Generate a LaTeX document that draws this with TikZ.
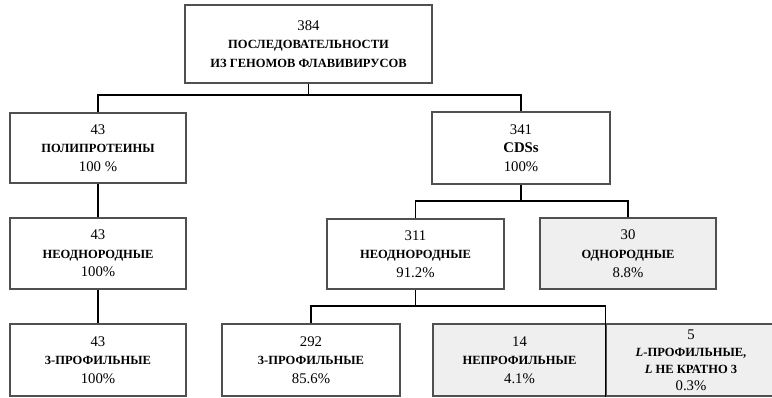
\documentclass[tikz,border=0pt]{standalone}
\usepackage{fontspec}
\setmainfont{Liberation Serif}
\usepackage{tikz}
\usetikzlibrary{positioning}
\usepackage{xcolor}
\definecolor{boxgray}{RGB}{239,239,239}
\definecolor{edgegray}{RGB}{80,80,80}
\newcommand{\numfont}{\fontsize{10.5}{13.3}\selectfont}
\newcommand{\labfont}{\fontsize{8.9}{13.3}\selectfont\bfseries}
\newcommand{\seqbox}[3]{#1\\{\labfont #2}\\#3}
\tikzstyle{seq} = [rectangle, draw=edgegray, line width=0.9pt, fill=white, inner sep=0pt, minimum width=4.4cm, minimum height=1.775cm, align=center, font=\numfont]
\tikzstyle{seqgray} = [seq, fill=boxgray]
\tikzstyle{link} = [line width=1.2pt, color=black]

\begin{document}
\begin{tikzpicture}[x=0.025cm, y=-0.025cm]
    \useasboundingbox (0,0) rectangle (772,398);

    % Top
    \node[seq, minimum width=6.175cm, minimum height=1.95cm] (all) at (308.5,44) {384\\{\labfont ПОСЛЕДОВАТЕЛЬНОСТИ}\\{\labfont ИЗ ГЕНОМОВ ФЛАВИВИРУСОВ}};

    % Left branch
    \node[seq, minimum height=1.75cm] (poly) at (98,148) {\seqbox{43}{ПОЛИПРОТЕИНЫ}{100 \%}};
    \node[seq] (polyhet) at (98,253.5) {\seqbox{43}{НЕОДНОРОДНЫЕ}{100\%}};
    \node[seq, minimum height=1.8cm] (polythree) at (98,360) {\seqbox{43}{3-ПРОФИЛЬНЫЕ}{100\%}};

    % Right branch
    \node[seq, minimum width=4.45cm, minimum height=1.8cm] (cds) at (521,148) {341\\{\bfseries CDSs}\\100\%};
    \node[seq, minimum width=4.425cm, minimum height=1.75cm] (cdshet) at (415.5,254) {\seqbox{311}{НЕОДНОРОДНЫЕ}{91.2\%}};
    \node[seqgray] (cdshom) at (628,253.5) {\seqbox{30}{ОДНОРОДНЫЕ}{8.8\%}};
    \node[seq, minimum width=4.45cm, minimum height=1.8cm] (cdsthree) at (311,360) {\seqbox{292}{3-ПРОФИЛЬНЫЕ}{85.6\%}};
    \node[seqgray, minimum width=4.325cm, minimum height=1.8cm] (cdsnon) at (519.5,360) {\seqbox{14}{НЕПРОФИЛЬНЫЕ}{4.1\%}};
    \node[seqgray, minimum width=4.25cm, minimum height=1.8cm, font=\fontsize{10.5}{12}\selectfont] (cdsl) at (691,360) {5\\{\labfont\itshape L}{\labfont -ПРОФИЛЬНЫЕ,}\\{\labfont\itshape L}{\labfont\ НЕ КРАТНО 3}\\0.3\%};

    % Bus points
    \coordinate (bustop) at (310,95);
    \coordinate (busmid) at (522,201);
    \coordinate (buslow) at (416,306);

    % Links
    \draw[link] (all.south) -- (all.south |- bustop);
    \draw[link] (poly.north) -- (poly.north |- bustop) -- (cds.north |- bustop) -- (cds.north);
    \draw[link] (poly.south) -- (polyhet.north);
    \draw[link] (polyhet.south) -- (polythree.north);

    \draw[link] (cds.south) -- (cds.south |- busmid);
    \draw[link] (cdshet.north) -- (cdshet.north |- busmid) -- (cdshom.north |- busmid) -- (cdshom.north);
    \draw[link] (cdshet.south) -- (cdshet.south |- buslow);
    \draw[link] (cdsthree.north) -- (cdsthree.north |- buslow) -- (cdsl.south west |- buslow) -- (cdsl.south west);
\end{tikzpicture}
\end{document}
